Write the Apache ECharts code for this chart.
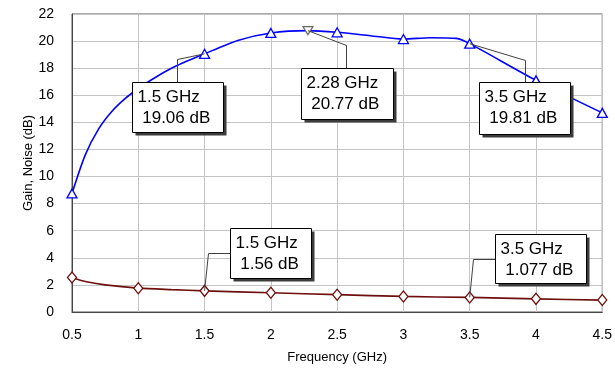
<!DOCTYPE html>
<html>
<head>
<meta charset="utf-8">
<script src="https://cdn.jsdelivr.net/npm/echarts@6/dist/echarts.min.js"></script>
<style>
html,body{margin:0;padding:0;background:#fff;}
#c{width:615px;height:369px;}
</style>
</head>
<body>
<div id="c"></div>
<script>
// ---- data ----
const gainFreq  = [0.5, 0.6, 0.7, 0.8, 0.9, 1.0, 1.1, 1.25, 1.5, 1.75, 2.0, 2.28, 2.5, 2.75, 3.0, 3.2, 3.4, 3.5, 4.0, 4.5];
const gainCurve = [8.75, 11.6, 13.5, 14.8, 15.75, 16.5, 17.15, 18.0, 19.06, 20.05, 20.6, 20.77, 20.65, 20.4, 20.15, 20.25, 20.2, 19.81, 17.1, 14.7];
const noiseFreq  = [0.5, 0.6, 0.75, 1.0, 1.25, 1.5, 2.0, 2.5, 3.0, 3.5, 4.0, 4.5];
const noiseCurve = [2.55, 2.25, 2.0, 1.76, 1.65, 1.56, 1.42, 1.28, 1.15, 1.077, 0.97, 0.88];
const markerFreqs = [0.5, 1.0, 1.5, 2.0, 2.5, 3.0, 3.5, 4.0, 4.5];
const peakMarker = [2.28, 20.77];
const xTicks = {min: 0.5, max: 4.5, step: 0.5};
const yTicks = {min: 0, max: 22, step: 2};
const annotations = [
  {f: 1.5,  v: 19.06, text: '1.5 GHz\n 19.06 dB',  box: [-73, 28, 91, 50], elbow: [-28, 5],  kind: 'down'},
  {f: 2.28, v: 20.77, text: '2.28 GHz\n 20.77 dB', box: [-7, 37, 92, 51],  elbow: [38, 14],  kind: 'down'},
  {f: 3.5,  v: 19.81, text: '3.5 GHz\n 19.81 dB',  box: [9, 38, 91, 52],   elbow: [55, 16],  kind: 'down'},
  {f: 1.5,  v: 1.56,  text: '1.5 GHz\n 1.56 dB',   box: [25, -63, 81, 50], elbow: [3, -38],  kind: 'side'},
  {f: 3.5,  v: 1.077, text: '3.5 GHz\n 1.077 dB',  box: [25, -63, 91, 49], elbow: [3, -38],  kind: 'side'}
];

function pick(freqs, vals, wanted) {
  return wanted.map(f => [f, vals[freqs.indexOf(f)]]).filter(p => p[1] !== undefined);
}
const gainLine = gainFreq.map((f, i) => [f, gainCurve[i]]);
const noiseLine = noiseFreq.map((f, i) => [f, noiseCurve[i]]);
const gainMarks = pick(gainFreq, gainCurve, markerFreqs);
const noiseMarks = pick(noiseFreq, noiseCurve, markerFreqs);

const FONT = '"Liberation Sans", Arial, sans-serif';
const BLUE = '#0000ff';
const MAROON = '#6e0f0f';

const chart = echarts.init(document.getElementById('c'), null, {renderer: 'canvas'});
chart.setOption({
  animation: false,
  backgroundColor: '#ffffff',
  grid: {left: 72, right: 11, top: 14, bottom: 56, show: true, borderColor: '#555555', borderWidth: 1, backgroundColor: 'transparent'},
  xAxis: {
    type: 'value', min: xTicks.min, max: xTicks.max, interval: xTicks.step,
    name: 'Frequency (GHz)', nameLocation: 'middle', nameGap: 39, nameMoveOverlap: false,
    nameTextStyle: {fontFamily: FONT, fontSize: 13, color: '#000'},
    axisLine: {show: true, lineStyle: {color: '#444', width: 1}},
    axisTick: {show: false},
    axisLabel: {fontFamily: FONT, fontSize: 14, color: '#000', margin: 16},
    splitLine: {show: true, lineStyle: {color: '#c4c4c4', width: 1}}
  },
  yAxis: {
    type: 'value', min: yTicks.min, max: yTicks.max, interval: yTicks.step,
    name: 'Gain, Noise (dB)', nameLocation: 'middle', nameGap: 37, nameRotate: 90, nameMoveOverlap: false,
    nameTextStyle: {fontFamily: FONT, fontSize: 13, color: '#000'},
    axisLine: {show: true, lineStyle: {color: '#444', width: 1}},
    axisTick: {show: false},
    axisLabel: {fontFamily: FONT, fontSize: 14, color: '#000', margin: 18},
    splitLine: {show: true, lineStyle: {color: '#c4c4c4', width: 1}}
  },
  series: [
    {type: 'line', data: gainLine, smooth: 0.25, showSymbol: false, symbol: 'none',
     lineStyle: {color: BLUE, width: 1.6}, z: 3},
    {type: 'line', data: noiseLine, smooth: 0.25, showSymbol: false, symbol: 'none',
     lineStyle: {color: MAROON, width: 1.6}, z: 3},
    {type: 'scatter', data: gainMarks, symbol: 'triangle', symbolSize: [10, 9],
     itemStyle: {color: '#ffffff', borderColor: BLUE, borderWidth: 1.3, opacity: 1}, z: 4},
    {type: 'scatter', data: noiseMarks, symbol: 'diamond', symbolSize: [9, 11],
     itemStyle: {color: '#ffffff', borderColor: MAROON, borderWidth: 1.3, opacity: 1}, z: 4},
    {type: 'scatter', data: [peakMarker], symbol: 'triangle', symbolRotate: 180, symbolSize: [10, 8],
     itemStyle: {color: '#ffffff', borderColor: '#666666', borderWidth: 1.2, opacity: 1}, z: 4}
  ]
});

const els = [];
annotations.forEach(a => {
  const p = chart.convertToPixel({gridIndex: 0}, [a.f, a.v]);
  const bx = Math.round(p[0] + a.box[0]) + 0.5, by = Math.round(p[1] + a.box[1]) + 0.5;
  const bw = a.box[2], bh = a.box[3];
  const ex = Math.round(p[0] + a.elbow[0]) + 0.5, ey = Math.round(p[1] + a.elbow[1]) + 0.5;
  const end = a.kind === 'down' ? [ex, by] : [bx, ey];
  els.push({type: 'polyline', z: 50, shape: {points: [[p[0], p[1]], [ex, ey], end]},
            style: {stroke: '#404040', lineWidth: 1, fill: null}});
  els.push({type: 'rect', z: 51, shape: {x: bx + 3, y: by + 3, width: bw, height: bh},
            style: {fill: '#3c3c3c', stroke: null}});
  els.push({type: 'rect', z: 52, shape: {x: bx, y: by, width: bw, height: bh},
            style: {fill: '#ffffff', stroke: '#000000', lineWidth: 1}});
  els.push({type: 'text', z: 53, x: bx + 5, y: by + 4,
            style: {text: a.text, font: '17px ' + FONT, fill: '#000', lineHeight: 21, textVerticalAlign: 'top'}});
});
chart.setOption({graphic: els});
</script>
</body>
</html>
